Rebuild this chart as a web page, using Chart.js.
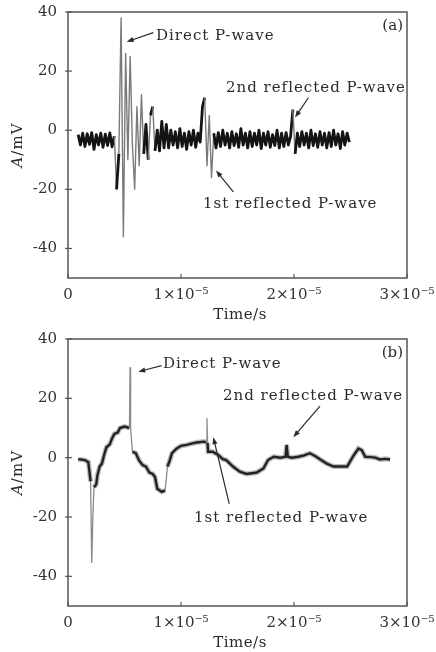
<!DOCTYPE html>
<html><head><meta charset="utf-8">
<script src="https://cdn.jsdelivr.net/npm/chart.js@4.4.1/dist/chart.umd.min.js"></script>
<style>
html,body{margin:0;padding:0;background:#fff;width:436px;height:652px;overflow:hidden;}
canvas{position:absolute;left:0;}
#cA{top:0;} #cB{top:320px;}
</style></head><body>
<canvas id="cA" width="436" height="330"></canvas>
<canvas id="cB" width="436" height="332"></canvas>
<script>
// ---------- data (time in units of 1e-5 s, amplitude in mV) ----------
const xTicks = [0, 1, 2, 3];
const xTickLabels = ['0', '1×10⁻⁵', '2×10⁻⁵', '3×10⁻⁵'];
const yTicks = [40, 20, 0, -20, -40];
const yMin = -50, yMax = 40;

// panel (a): sampled record, first sample time and sample interval
const startA = 0.09, stepA = 0.02;
const ampA = [
  -1.5, -5, -1, -5.5, -1.2, -4.8, -0.8, -6.5, -1.5, -5, -1, -5.8, -1.3, -5.2, -0.9, -5.6,
  -2, -20, -8, 38, -36, 26, -10, 25, -5, -20, 8, -12, 12, -8, 2, -10, 5, 8, -7, 0, -7, 3, -6, 2, -6, 0,
  -5, -0.5, -6, 0.5, -5.5, -1, -6.5, -0.5, -5, 0, -5.8, -1,
  -4, 8, 11, -12, 5, -16, -1,
  -6, -0.8, -5.5, 0, -5, -1, -6, -0.5, -5.2, -1.2, -5.8, 0.5, -5, -1, -6, -0.5, -5.5, -1, -5, 0,
  -6.2, -1, -5, -0.5, -5.8, -1.5, -5.2, 0, -6, -1, -5.5, -0.8, -5, -2,
  7, -8,
  -1, -5.5, -0.5, -5, -1, -6, 0, -5.2, -1.2, -5.8, -0.5, -5, -1, -6, -0.8, -5.5, 0, -5, -1.2, -6.2, -0.5, -5, -1, -4
];

// panel (b)
const timeB = [0.09, 0.15, 0.18, 0.20, 0.21, 0.22, 0.23, 0.25, 0.26, 0.28, 0.30, 0.32, 0.34, 0.37, 0.39, 0.41, 0.44, 0.46,
  0.50, 0.544, 0.549, 0.554, 0.57, 0.60, 0.63, 0.66, 0.69, 0.72, 0.75, 0.77, 0.79, 0.83, 0.86, 0.88, 0.90, 0.92, 0.96,
  1.00, 1.05, 1.10, 1.14, 1.20, 1.225, 1.23, 1.235, 1.24, 1.28, 1.33, 1.37, 1.40, 1.46, 1.52, 1.58, 1.67, 1.73, 1.77,
  1.82, 1.88, 1.925, 1.935, 1.945, 1.98, 2.04, 2.09, 2.14, 2.19, 2.24, 2.29, 2.35, 2.41, 2.47, 2.52, 2.55, 2.57, 2.60,
  2.63, 2.68, 2.72, 2.76, 2.81, 2.85];
const ampB = [-0.5, -0.8, -1.5, -8, -35.5, -20, -10, -9, -6, -3, -2, 1, 3.5, 4.5, 6.5, 8, 8.5, 10,
  10.5, 10, 30.5, 10, 2, 1.5, -1, -2.5, -3, -5, -5.5, -6.5, -10.5, -11.5, -11, -3, -1, 1.5, 3,
  4, 4.3, 4.8, 5.1, 5.4, 5.2, 13.3, 5, 2, 2, 0.9, -0.5, -0.8, -3, -4.7, -5.5, -5, -3.6, -0.8,
  0.3, 0, 0.3, 4.3, 0.3, 0, 0.3, 0.8, 1.5, 0.5, -0.8, -2, -3, -3, -3, 0.3, 2, 3.1, 2.5,
  0.3, 0.2, 0, -0.6, -0.4, -0.6];

// ---------- annotations (anchor points in data units) ----------
const notesA = [
  {text: 'Direct P-wave', tx: 0.779, ty: 31.9, ax0: 0.755, ay0: 33.0, ax1: 0.519, ay1: 29.9},
  {text: '2nd reflected P-wave', tx: 1.398, ty: 14.3, ax0: 2.127, ay0: 11.0, ax1: 2.009, ay1: 4.3},
  {text: '1st reflected P-wave', tx: 1.195, ty: -25.1, ax0: 1.463, ay0: -20.9, ax1: 1.310, ay1: -13.6}
];
const notesB = [
  {text: 'Direct P-wave', tx: 0.841, ty: 31.6, ax0: 0.829, ay0: 31.0, ax1: 0.622, ay1: 29.0},
  {text: '2nd reflected P-wave', tx: 1.372, ty: 20.8, ax0: 2.230, ay0: 17.4, ax1: 1.994, ay1: 6.9},
  {text: '1st reflected P-wave', tx: 1.115, ty: -20.3, ax0: 1.427, ay0: -15.6, ax1: 1.286, ay1: 6.9}
];

// ---------- drawing ----------
const serif = "'DejaVu Serif', 'Liberation Serif', serif";

function arrow(ctx, x0, y0, x1, y1) {
  const ang = Math.atan2(y1 - y0, x1 - x0);
  const L = 7, W = 2.6;
  ctx.beginPath();
  ctx.moveTo(x0, y0);
  ctx.lineTo(x1 - Math.cos(ang) * L * 0.8, y1 - Math.sin(ang) * L * 0.8);
  ctx.stroke();
  ctx.beginPath();
  ctx.moveTo(x1, y1);
  ctx.lineTo(x1 - Math.cos(ang) * L - Math.sin(ang) * W, y1 - Math.sin(ang) * L + Math.cos(ang) * W);
  ctx.lineTo(x1 - Math.cos(ang) * L + Math.sin(ang) * W, y1 - Math.sin(ang) * L - Math.cos(ang) * W);
  ctx.closePath();
  ctx.fill();
}

const framePlugin = {
  id: 'frame',
  afterDraw(chart) {
    const {ctx, chartArea: a, scales: {x, y}} = chart;
    const o = chart.options.plugins.frame;
    ctx.save();
    ctx.strokeStyle = '#555';
    ctx.lineWidth = 1.5;
    ctx.strokeRect(a.left, a.top, a.right - a.left, a.bottom - a.top);
    ctx.lineWidth = 1.2;
    yTicks.forEach(v => {
      const py = y.getPixelForValue(v);
      ctx.beginPath(); ctx.moveTo(a.left - 3, py); ctx.lineTo(a.left + 4, py); ctx.stroke();
    });
    xTicks.forEach(v => {
      const px = x.getPixelForValue(v);
      ctx.beginPath(); ctx.moveTo(px, a.bottom); ctx.lineTo(px, a.bottom - 4); ctx.stroke();
    });
    // annotations
    ctx.fillStyle = '#2a2a2a';
    ctx.strokeStyle = '#2a2a2a';
    ctx.lineWidth = 1.2;
    ctx.font = `15px ${serif}`;
    ctx.letterSpacing = '1px';
    ctx.textBaseline = 'middle';
    ctx.textAlign = 'left';
    o.notes.forEach(n => {
      ctx.fillText(n.text, x.getPixelForValue(n.tx), y.getPixelForValue(n.ty));
      arrow(ctx, x.getPixelForValue(n.ax0), y.getPixelForValue(n.ay0),
                 x.getPixelForValue(n.ax1), y.getPixelForValue(n.ay1));
    });
    // panel tag
    ctx.letterSpacing = '0px';
    ctx.textAlign = 'right';
    ctx.fillText(o.tag, a.right - 4, a.top + 14);
    // x title
    ctx.textAlign = 'center';
    ctx.letterSpacing = '0.5px';
    ctx.fillText('Time/s', (a.left + a.right) / 2 + 2.5, a.bottom + 37);
    // y title (italic A)
    ctx.translate(18, (a.top + a.bottom) / 2);
    ctx.rotate(-Math.PI / 2);
    ctx.letterSpacing = '1px';
    ctx.font = `italic 15px ${serif}`;
    const wA = ctx.measureText('A').width;
    ctx.font = `15px ${serif}`;
    const wR = ctx.measureText('/mV').width;
    const x0 = -(wA + wR) / 2;
    ctx.textAlign = 'left';
    ctx.font = `italic 15px ${serif}`;
    ctx.fillText('A', x0, 0);
    ctx.font = `15px ${serif}`;
    ctx.fillText('/mV', x0 + wA, 0);
    ctx.restore();
  }
};

function makeChart(id, H, top, bottom, datasets, notes, tag) {
  return new Chart(document.getElementById(id), {
    type: 'line',
    data: {datasets},
    options: {
      responsive: false, animation: false, devicePixelRatio: 1,
      layout: {padding: {top, right: 29, left: 0, bottom: 0}},
      plugins: {legend: {display: false}, tooltip: {enabled: false}, frame: {notes, tag}},
      elements: {point: {radius: 0}, line: {tension: 0}},
      scales: {
        x: {
          type: 'linear', min: 0, max: 3,
          afterBuildTicks: s => { s.ticks = xTicks.map(v => ({value: v})); },
          afterFit: s => { s.height = H - bottom; },
          grid: {display: false}, border: {display: false},
          ticks: {callback: (v, i) => xTickLabels[i], font: {family: serif, size: 15}, color: '#333',
                  padding: 0, maxRotation: 0, autoSkip: false}
        },
        y: {
          type: 'linear', min: yMin, max: yMax,
          afterBuildTicks: s => { s.ticks = yTicks.map(v => ({value: v})); },
          afterFit: s => { s.width = 68; },
          grid: {display: false}, border: {display: false},
          ticks: {font: {family: serif, size: 15}, color: '#333', padding: 3}
        }
      }
    },
    plugins: [framePlugin]
  });
}

const big = (c, lim) => Math.abs(c.p1.parsed.y - c.p0.parsed.y) > lim;
const ptsA = ampA.map((v, i) => ({x: startA + i * stepA, y: v}));
const ptsB = timeB.map((t, i) => ({x: t, y: ampB[i]}));

makeChart('cA', 330, 11, 278, [
  {data: ptsA, borderColor: '#111', borderWidth: 2.8, fill: false, borderJoinStyle: 'round',
   segment: {borderColor: c => big(c, 14) ? '#7a7a7a' : '#141414', borderWidth: c => big(c, 14) ? 1.4 : 2.8}}
], notesA, '(a)');

makeChart('cB', 332, 19, 286, [
  {data: ptsB, borderColor: '#222', borderWidth: 2.4, fill: false, order: 1,
   segment: {borderColor: c => big(c, 7) ? '#8a8a8a' : '#222', borderWidth: c => big(c, 7) ? 1.3 : 2.4}},
  {data: ptsB, borderColor: '#bdbdbd', borderWidth: 5, fill: false, order: 2,
   segment: {borderColor: c => big(c, 7) ? 'rgba(0,0,0,0)' : '#bdbdbd'}}
], notesB, '(b)');
</script>
</body></html>
